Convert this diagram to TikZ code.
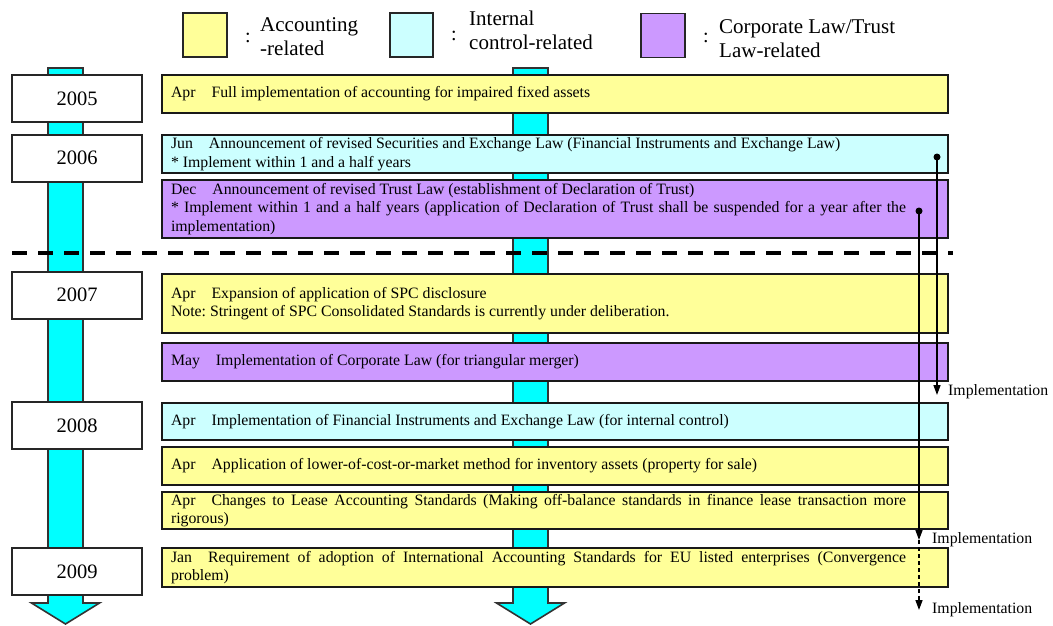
\documentclass[tikz,border=0pt]{standalone}
\usepackage{fontspec}
\setmainfont{Liberation Serif}
\usetikzlibrary{arrows.meta,positioning}
\definecolor{acc}{RGB}{255,255,153}
\definecolor{ctl}{RGB}{204,255,255}
\definecolor{law}{RGB}{204,153,255}
\definecolor{bar}{RGB}{0,255,255}
\frenchspacing
\newcommand{\mo}[1]{#1\hspace{16pt}}
\newcommand{\jt}[1]{\parbox{735pt}{#1}}

\begin{document}
\begin{tikzpicture}[x=1pt,y=-1pt,
    yr/.style={draw=black!85,line width=2pt,fill=white,minimum width=130pt,minimum height=47pt,inner sep=0pt,font=\fontsize{20.5}{24}\selectfont},
    ev/.style={draw=black!90,line width=2pt,minimum width=786pt,text width=768pt,inner xsep=9pt,inner ysep=0pt,align=justify,font=\fontsize{15.8}{18.5}\selectfont},
    lg/.style={draw=black!85,line width=1.8pt,minimum width=#1,minimum height=44pt,inner sep=0pt},
    lgt/.style={anchor=base west,inner sep=0pt,align=left,font=\fontsize{21}{24}\selectfont},
    col/.style={inner sep=0pt,font=\fontsize{20}{20}\selectfont},
    impl/.style={inner sep=0pt,font=\fontsize{15.8}{17}\selectfont},
    dot/.style={circle,fill=black,inner sep=0pt,minimum size=7pt},
    imp/.style={line width=1.5pt,-{Triangle[length=10pt,width=7pt]}}]
  \useasboundingbox (0,0) rectangle (1053,625);

  \node[lg=44pt,fill=acc] (kacc) at (205,35) {};
  \node[lg=43pt,fill=ctl] (kctl) at (411.5,35) {};
  \node[lg=44pt,fill=law] (klaw) at (663,35.5) {};
  \node[col] (cacc) at (248,38) {:};
  \node[col] (cctl) at (454,36) {:};
  \node[col] (claw) at (706,38) {:};
  \node[lgt] (tacc) at (260,55) {Accounting\\-related};
  \node[lgt] (tctl) at (469,49) {Internal\\control-related};
  \node[lgt] (tlaw) at (719,57) {Corporate Law/Trust\\Law-related};

  \foreach \x in {65.5,530.5}
    \draw[fill=bar,draw=black!80,line width=1.6pt] (\x-17.5,68) -- (\x-17.5,603) -- (\x-34,603) -- (\x,624)
      -- (\x+34,603) -- (\x+17.5,603) -- (\x+17.5,68) -- cycle;
  \draw[line width=4.5pt,dash pattern=on 15pt off 11pt] (12,253) -- (953,253);

  \node[yr] (y2005) at (77,98.5) {2005};
  \node[yr] (y2006) at (77,158) {2006};
  \node[yr] (y2007) at (77,295) {2007};
  \node[yr] (y2008) at (77,425.5) {2008};
  \node[yr] (y2009) at (77,571.5) {2009};

  \node[ev,fill=acc,minimum height=38pt] (apr05) at (555,94) {\jt{\mo{Apr}Full implementation of accounting for impaired fixed assets}};
  \node[ev,fill=ctl,minimum height=38pt] (jun06) at (555,154) {\jt{\mo{Jun}Announcement of revised Securities and Exchange Law (Financial Instruments and Exchange Law)\\{*} Implement within 1 and a half years}};
  \node[ev,fill=law,minimum height=58pt] (dec06) at (555,209) {\jt{\mo{Dec}Announcement of revised Trust Law (establishment of Declaration of Trust)\\{*} Implement within 1 and a half years (application of Declaration of Trust shall be suspended for a year after the\linebreak implementation)}};
  \node[ev,fill=acc,minimum height=59pt] (apr07) at (555,303.5) {\jt{\mo{Apr}Expansion of application of SPC disclosure\\Note: Stringent of SPC Consolidated Standards is currently under deliberation.}};
  \node[ev,fill=law,minimum height=38pt] (may07) at (555,362) {\jt{\mo{May}Implementation of Corporate Law (for triangular merger)}};
  \node[ev,fill=ctl,minimum height=37pt] (apr08a) at (555,421.5) {\jt{\mo{Apr}Implementation of Financial Instruments and Exchange Law (for internal control)}};
  \node[ev,fill=acc,minimum height=38pt] (apr08b) at (555,466) {\jt{\mo{Apr}Application of lower-of-cost-or-market method for inventory assets (property for sale)}};
  \node[ev,fill=acc,minimum height=37pt] (apr08c) at (555,510.5) {\jt{\mo{Apr}Changes to Lease Accounting Standards (Making off-balance standards in finance lease transaction more\linebreak rigorous)}};
  \node[ev,fill=acc,minimum height=39pt] (jan09) at (555,567.5) {\jt{\mo{Jan}Requirement of adoption of International Accounting Standards for EU listed enterprises (Convergence\linebreak problem)}};

  \node[dot] (d1) at (937,157) {};
  \node[dot] (d2) at (919,211) {};
  \coordinate (t1) at (937,395);
  \coordinate (t2) at (919,540);
  \coordinate (t3) at (919,610);
  \node[impl,right=11pt of t1,yshift=3pt] (i1) {Implementation};
  \node[impl,right=13pt of t2] (i2) {Implementation};
  \node[impl,right=13pt of t3] (i3) {Implementation};
  \draw[imp] (d1.center) -- (t1);
  \draw[imp] (d2.center) -- (t2);
  \draw[imp,dash pattern=on 4pt off 3pt] (t2) -- (t3);
\end{tikzpicture}
\end{document}
